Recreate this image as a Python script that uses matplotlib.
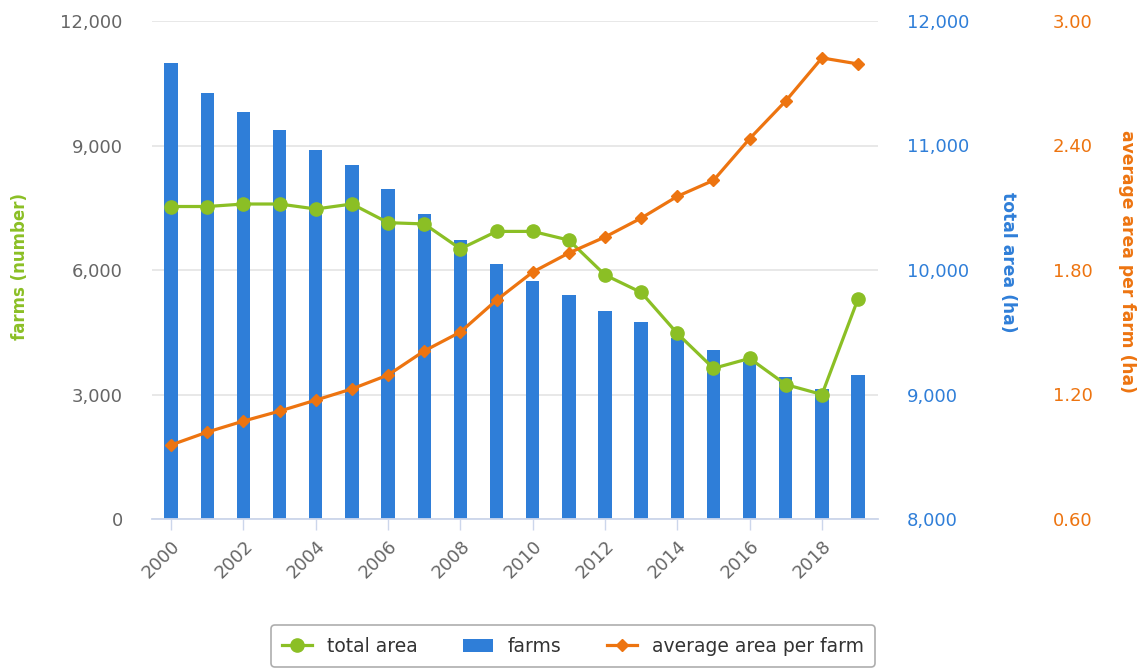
import matplotlib
matplotlib.use('Agg')
import matplotlib.pyplot as plt
import numpy as np

# values
years = list(range(2000, 2020))
farms = [10990, 10270, 9800, 9370, 8900, 8520, 7960, 7340, 6720, 6150,
         5730, 5400, 5020, 4740, 4370, 4070, 3790, 3420, 3140, 3460]
total_area = [10510, 10510, 10530, 10530, 10490, 10530, 10380, 10370, 10170, 10310,
              10310, 10240, 9960, 9820, 9490, 9210, 9290, 9080, 9000, 9770]
avg_area = [0.957, 1.019, 1.072, 1.12, 1.173, 1.227, 1.294, 1.41, 1.501, 1.655,
            1.79, 1.882, 1.959, 2.05, 2.155, 2.232, 2.433, 2.615, 2.822, 2.793]

c_bar = '#2f7ed8'
c_green = '#8bbf25'
c_orange = '#ed7410'
c_txt = '#666666'

plt.rcParams['font.family'] = 'DejaVu Sans'

fig = plt.figure(figsize=(11.41, 6.68), dpi=100)
ax = fig.add_axes([152/1141, 1-519/668, (878-152)/1141, (519-21)/668])
ax2 = ax.twinx()
ax3 = ax.twinx()

x = np.arange(len(years))
b = ax.bar(x, farms, width=0.37, color=c_bar, zorder=2, label='farms')
l1, = ax2.plot(x, total_area, color=c_green, lw=2.3, marker='o', ms=9.5,
               zorder=3, label='total area')
l2, = ax3.plot(x, avg_area, color=c_orange, lw=2.3, marker='D', ms=6.5,
               zorder=3, label='average area per farm')

ax.set_xlim(-0.53, 19.55)
ax.set_ylim(0, 12000)
ax2.set_ylim(8000, 12000)
ax3.set_ylim(0.6, 3.0)

ax.set_yticks([0, 3000, 6000, 9000, 12000])
ax.set_yticklabels(['0', '3,000', '6,000', '9,000', '12,000'])
ax2.set_yticks([8000, 9000, 10000, 11000, 12000])
ax2.set_yticklabels(['8,000', '9,000', '10,000', '11,000', '12,000'])
ax3.set_yticks([0.6, 1.2, 1.8, 2.4, 3.0])
ax3.set_yticklabels(['0.60', '1.20', '1.80', '2.40', '3.00'])

ax.grid(axis='y', color='#e6e6e6', lw=1.3, zorder=0)
ax.set_axisbelow(True)

for a in (ax, ax2, ax3):
    for s in a.spines.values():
        s.set_visible(False)
ax.spines['bottom'].set_visible(True)
ax.spines['bottom'].set_color('#ccd6eb')
ax.spines['bottom'].set_linewidth(1.3)

ax.tick_params(axis='y', length=0, pad=21, labelsize=13, labelcolor=c_txt)
ax2.tick_params(axis='y', length=0, pad=21, labelsize=13, labelcolor=c_bar)
ax3.tick_params(axis='y', length=0, pad=126, labelsize=13, labelcolor=c_orange)

ax.set_xticks(x[::2])
ax.set_xticklabels([str(y) for y in years[::2]], rotation=45, ha='right',
                   rotation_mode='anchor')
ax.tick_params(axis='x', length=8, width=1, color='#ccd6eb', labelsize=13,
               labelcolor=c_txt, pad=5)

fig.text(20/1141, 1-266/668, 'farms (number)', rotation=90, color=c_green,
         fontsize=12, fontweight='bold', ha='center', va='center')
fig.text(1008/1141, 1-262/668, 'total area (ha)', rotation=270, color=c_bar,
         fontsize=12.3, fontweight='bold', ha='center', va='center')
fig.text(1127/1141, 1-261/668, 'average area per farm (ha)', rotation=270,
         color=c_orange, fontsize=12.3, fontweight='bold', ha='center', va='center')

leg = fig.legend([l1, b, l2], ['total area', 'farms', 'average area per farm'],
                 loc='upper center', bbox_to_anchor=(0.502, 1-616/668), ncol=3,
                 fontsize=13.5, frameon=True, fancybox=True, edgecolor='#999999',
                 handlelength=1.6, columnspacing=2.4, borderpad=0.6,
                 handletextpad=0.8)
leg.get_frame().set_linewidth(1.2)
for t in leg.get_texts():
    t.set_color('#333333')

fig.savefig('out.png', dpi=100)
